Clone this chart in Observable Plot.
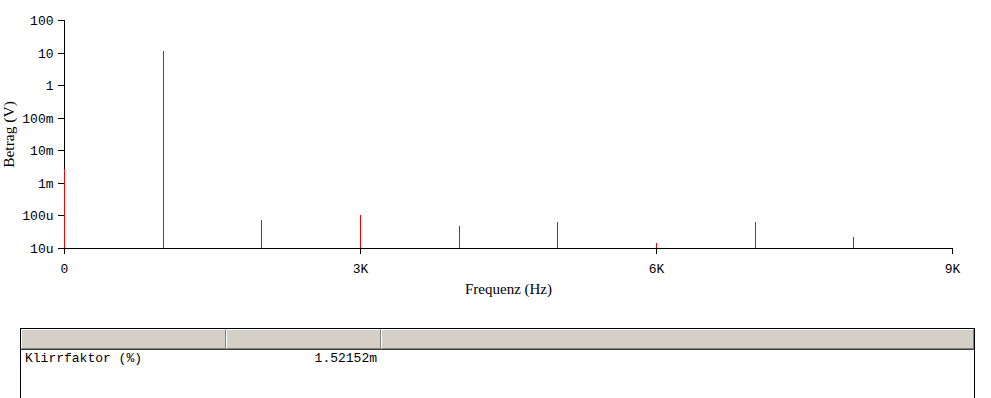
<!DOCTYPE html>
<html>
<head>
<meta charset="utf-8">
<script src="https://cdn.jsdelivr.net/npm/d3@7"></script>
<script src="https://cdn.jsdelivr.net/npm/@observablehq/plot@0.6"></script>
<style>
  body { margin: 0; background: #fff; }
  #wrap { position: relative; width: 991px; height: 398px; overflow: hidden; background: #fff; }
  #wrap svg g[aria-label="x-axis label"] text { font-family: "Liberation Serif", serif; font-size: 15px; }
  #wrap svg g[aria-label="y-axis label"] text { font-family: "Liberation Serif", serif; font-size: 15.5px; }
  #tbl { position: absolute; left: 20px; top: 328px; width: 955px; height: 80px;
         border: 1px solid #000; box-sizing: border-box; background: #fff;
         font-family: "Liberation Mono", monospace; font-size: 13px; }
  #hdr { display: flex; height: 20px; border-bottom: 1px solid #404040; }
  #hdr div { background: #d4d0c8; box-sizing: border-box;
             border-top: 1px solid #fff; border-left: 1px solid #fff;
             border-right: 1px solid #808080; border-bottom: 1px solid #808080; }
  .row { display: flex; height: 18px; line-height: 18px; }
  .row div { box-sizing: border-box; white-space: pre; }
</style>
</head>
<body>
<div id="wrap"></div>
<script>
// Spectrum lines (frequency in Hz, magnitude in V)
const freqs = [0, 1000, 2000, 3000, 4000, 5000, 6000, 7000, 8000];
const mags = [2.7e-3, 11, 70e-6, 100e-6, 49e-6, 61e-6, 14e-6, 61e-6, 22e-6];

const xTicks = [0, 3000, 6000, 9000];
const xTickLabels = ["0", "3K", "6K", "9K"];
const yTicks = [1e-5, 1e-4, 1e-3, 1e-2, 1e-1, 1, 10, 100];
const yTickLabels = ["10u", "100u", "1m", "10m", "100m", "1", "10", "100"];

const colHeaders = ["", "", ""];
const rowNames = ["Klirrfaktor (%)"];
const rowValues = ["1.52152m"];

const data = freqs.map((f, i) => ({f, m: mags[i]}));

const chart = Plot.plot({
  width: 991,
  height: 310,
  marginLeft: 64,
  marginRight: 39,
  marginTop: 20,
  marginBottom: 62,
  style: {fontFamily: "Liberation Mono, monospace", fontSize: "13px", color: "#000", background: "transparent"},
  x: {domain: [0, 9000], round: true},
  y: {type: "log", domain: [1e-5, 100], round: true},
  marks: [
    Plot.axisX({ticks: xTicks, tickFormat: d => xTickLabels[xTicks.indexOf(d)], tickSize: 6, tickPadding: 9,
      label: "Frequenz (Hz)", labelAnchor: "center", labelArrow: "none", labelOffset: 45}),
    Plot.axisY({ticks: yTicks, tickFormat: d => yTickLabels[yTicks.findIndex(t => Math.abs(t - d) / t < 1e-6)], tickSize: 6, tickPadding: 5,
      label: "Betrag (V)", labelAnchor: "center", labelArrow: "none", labelOffset: 62}),
    Plot.ruleX([0], {stroke: "#000"}),
    Plot.ruleY([1e-5], {stroke: "#000"}),
    Plot.ruleX(data, {x: "f", y1: 1e-5, y2: "m", stroke: "#ff0000", strokeWidth: 1})
  ]
});
const wrap = document.getElementById("wrap");
wrap.appendChild(chart);

// Results table
const tbl = document.createElement("div");
tbl.id = "tbl";
const colW = [205, 155, 593];
const hdr = document.createElement("div");
hdr.id = "hdr";
colHeaders.forEach((h, i) => {
  const c = document.createElement("div");
  c.style.width = colW[i] + "px";
  c.textContent = h;
  hdr.appendChild(c);
});
tbl.appendChild(hdr);
rowNames.forEach((n, i) => {
  const r = document.createElement("div");
  r.className = "row";
  const a = document.createElement("div");
  a.style.width = colW[0] + "px"; a.style.paddingLeft = "4px"; a.textContent = n;
  const b = document.createElement("div");
  b.style.width = colW[1] + "px"; b.style.textAlign = "right"; b.style.paddingRight = "4px"; b.textContent = rowValues[i];
  r.appendChild(a); r.appendChild(b);
  tbl.appendChild(r);
});
wrap.appendChild(tbl);
</script>
</body>
</html>
